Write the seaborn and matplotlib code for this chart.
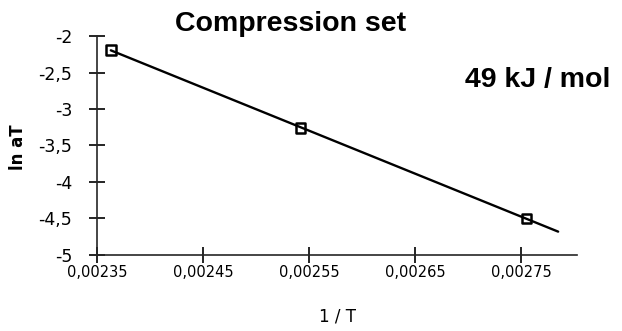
"""Compression set - Arrhenius plot"""
import seaborn as sns
import matplotlib.pyplot as plt
import matplotlib.ticker as mticker
import numpy as np
import pandas as pd

inv_T = [0.002363, 0.002542, 0.002755]
ln_aT = [-2.19, -3.26, -4.50]
x_ticks = [0.00235, 0.00245, 0.00255, 0.00265, 0.00275]
y_ticks = [-2, -2.5, -3, -3.5, -4, -4.5, -5]

sns.set_theme(style='ticks', rc={'axes.linewidth': 1.2, 'text.color': 'black',
                                 'axes.labelcolor': 'black'})
plt.rcParams['font.family'] = ['DejaVu Sans']

df = pd.DataFrame({'1 / T': inv_T, 'ln aT': ln_aT})

# linear trend line, extended forward like a spreadsheet forecast
slope, icpt = np.polyfit(inv_T, ln_aT, 1)
fit_x = np.array([min(inv_T), 0.002785])
fit = pd.DataFrame({'x': fit_x, 'y': slope * fit_x + icpt})

fig = plt.figure(figsize=(6.22, 3.31), dpi=100)
ax = fig.add_axes([0.156, 0.23, 0.772, 0.661])

sns.lineplot(data=fit, x='x', y='y', color='black', linewidth=1.7, ax=ax)
sns.scatterplot(data=df, x='1 / T', y='ln aT', marker='s', s=48,
                facecolor='none', edgecolor='black', linewidth=1.8, ax=ax, zorder=3)

ax.set_xlim(0.00235, 0.002803)
ax.set_ylim(-5, -2)
ax.set_xticks(x_ticks)
ax.set_yticks(y_ticks)
fmt = lambda v, _: f'{v:g}'.replace('.', ',') if abs(v) > 0.01 else f'{v:.5f}'.replace('.', ',')
ax.xaxis.set_major_formatter(mticker.FuncFormatter(fmt))
ax.yaxis.set_major_formatter(mticker.FuncFormatter(fmt))
ax.tick_params(direction='inout', length=12, width=1.2, colors='black')
ax.tick_params(axis='x', labelsize=10.5, pad=1)
ax.tick_params(axis='y', labelsize=12.5, pad=12)
sns.despine(ax=ax)

ax.set_xlabel('1 / T', fontsize=12, labelpad=20)
ax.set_ylabel('')
fig.text(0.029, 0.555, 'ln aT', rotation=90, ha='center', va='center',
         fontsize=12, fontweight='bold')
fig.text(0.467, 0.927, 'Compression set', ha='center', va='center',
         fontsize=20.5, fontweight='bold', family='Liberation Sans')
fig.text(0.865, 0.758, '49 kJ / mol', ha='center', va='center',
         fontsize=20.5, fontweight='bold', family='Liberation Sans')

plt.savefig('out.png', dpi=100)
